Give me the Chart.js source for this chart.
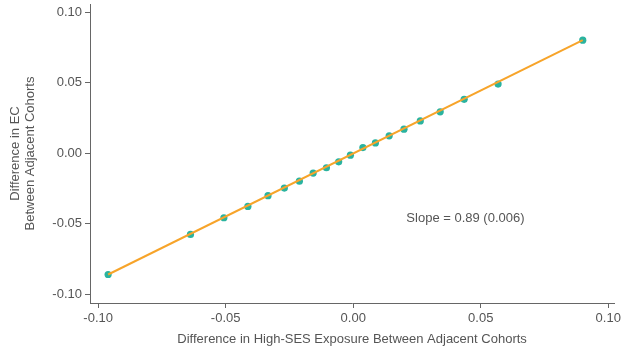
<!DOCTYPE html>
<html>
<head>
<meta charset="utf-8">
<script src="https://cdn.jsdelivr.net/npm/chart.js@4.4.0/dist/chart.umd.min.js"></script>
<style>
  html, body { margin: 0; padding: 0; background: #fff; }
  #wrap { width: 624px; height: 351px; position: relative; }
</style>
</head>
<body>
<div id="wrap"><canvas id="scatterChart"></canvas></div>
<script>
// binned points: difference in high-SES exposure vs difference in EC
const xValues = [-0.0961, -0.0638, -0.0507, -0.0413, -0.0334, -0.0270, -0.0211, -0.0157, -0.0105, -0.0057,
                 -0.0011, 0.0038, 0.0087, 0.0141, 0.0199, 0.0263, 0.0341, 0.0435, 0.0568, 0.0900];
const yValues = [-0.0859, -0.0575, -0.0457, -0.0377, -0.0301, -0.0247, -0.0198, -0.0141, -0.0103, -0.0061,
                 -0.0014, 0.0040, 0.0073, 0.0123, 0.0170, 0.0229, 0.0293, 0.0382, 0.0490, 0.0801];

// fitted line end points
const fitX = [-0.0961, 0.0900];
const fitY = [-0.0859, 0.0801];

const tickValues = [-0.10, -0.05, 0.00, 0.05, 0.10];
const slopeLabel = 'Slope = 0.89 (0.006)';
const slopeAt = { x: 0.044, y: -0.046 };

const textColor = '#555555';
const axisColor = '#666666';
const fontFamily = '"Liberation Sans", Arial, Helvetica, sans-serif';

const slopeText = {
    id: 'slopeText',
    afterDatasetsDraw(chart) {
        const ctx = chart.ctx;
        const px = chart.scales.x.getPixelForValue(slopeAt.x);
        const py = chart.scales.y.getPixelForValue(slopeAt.y);
        ctx.save();
        ctx.font = '13px ' + fontFamily;
        ctx.fillStyle = textColor;
        ctx.textAlign = 'center';
        ctx.textBaseline = 'middle';
        ctx.fillText(slopeLabel, px, py);
        ctx.restore();
    }
};

function fixedTicks(scale) {
    scale.ticks = tickValues.map(v => ({ value: v }));
}

const ctx = document.getElementById('scatterChart').getContext('2d');
new Chart(ctx, {
    type: 'scatter',
    data: {
        datasets: [{
            label: 'Fit',
            data: fitX.map((x, i) => ({ x: x, y: fitY[i] })),
            showLine: true,
            borderColor: '#f7a42a',
            borderWidth: 2,
            pointRadius: 0,
            fill: false
        }, {
            label: 'Bins',
            data: xValues.map((x, i) => ({ x: x, y: yValues[i] })),
            backgroundColor: '#2ab39f',
            borderColor: '#2ab39f',
            pointRadius: 3.6,
            borderWidth: 0
        }]
    },
    options: {
        responsive: true,
        maintainAspectRatio: false,
        animation: false,
        layout: { padding: { top: 3, right: 7, left: 0, bottom: 0 } },
        plugins: {
            legend: { display: false },
            tooltip: { enabled: false }
        },
        scales: {
            x: {
                type: 'linear',
                min: -0.1032,
                max: 0.1023,
                afterBuildTicks: fixedTicks,
                afterFit: (scale) => { scale.height = 48; },
                grid: { drawOnChartArea: false, drawTicks: true, tickLength: 5, color: axisColor },
                border: { display: true, color: axisColor, width: 1 },
                ticks: {
                    color: textColor,
                    font: { family: fontFamily, size: 13 },
                    padding: 3,
                    maxRotation: 0,
                    callback: (v) => v.toFixed(2)
                },
                title: {
                    display: true,
                    text: 'Difference in High-SES Exposure Between Adjacent Cohorts',
                    color: textColor,
                    font: { family: fontFamily, size: 13 },
                    padding: { top: 0, bottom: 4 }
                }
            },
            y: {
                type: 'linear',
                min: -0.1061,
                max: 0.1057,
                afterBuildTicks: fixedTicks,
                afterFit: (scale) => {
                    scale.width = 90;
                    scale.paddingTop = 0;
                    scale.paddingBottom = 0;
                },
                grid: { drawOnChartArea: false, drawTicks: true, tickLength: 5, color: axisColor },
                border: { display: true, color: axisColor, width: 1 },
                ticks: {
                    color: textColor,
                    font: { family: fontFamily, size: 13 },
                    padding: 3,
                    callback: (v) => v.toFixed(2)
                },
                title: {
                    display: true,
                    text: ['Difference in EC', 'Between Adjacent Cohorts'],
                    color: textColor,
                    font: { family: fontFamily, size: 13, lineHeight: 1.15 },
                    padding: { top: 8, bottom: 0 }
                }
            }
        }
    },
    plugins: [slopeText]
});
</script>
</body>
</html>
